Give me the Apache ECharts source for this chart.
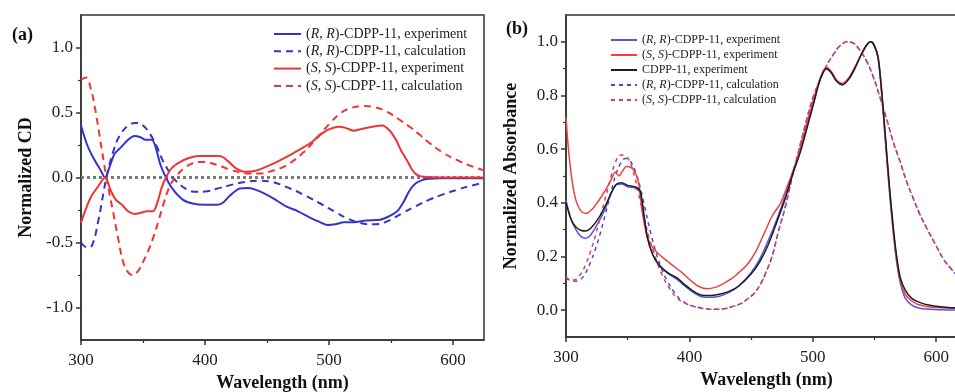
<!DOCTYPE html>
<html><head><meta charset="utf-8">
<script src="https://cdn.jsdelivr.net/npm/echarts@6/dist/echarts.min.js"></script>
<style>html,body{margin:0;padding:0;background:#fff}#c{width:955px;height:392px}</style>
</head><body><div id="c"></div>
<script>
// ---------- Panel (a): CD spectra ----------
const wlA_rrExp = [300,305,310,315,319.5,323,327,332,338,343,348,352,357,360,364,368.5,374,382,390,400,410,415,420,428,435,445,455,465,475,485,492,499,505,512,520,530,541,548,555,560,565,570,575,580,590,625];
const cdA_rrExp = [0.40,0.25,0.15,0.07,0.0,0.08,0.18,0.23,0.29,0.32,0.31,0.29,0.29,0.24,0.10,0.0,-0.09,-0.17,-0.20,-0.21,-0.21,-0.19,-0.14,-0.085,-0.08,-0.11,-0.16,-0.22,-0.26,-0.31,-0.34,-0.365,-0.36,-0.345,-0.345,-0.33,-0.325,-0.30,-0.26,-0.19,-0.10,-0.045,-0.02,-0.01,-0.005,-0.005];

const wlA_rrCalc = [300,305,309,314,320.5,326,331,338,344,350,356,361,366,372,377,385,393,402,412,422,432,442,452,465,479,493,506,516,525,535,545,560,570,581,592,603,614,625];
const cdA_rrCalc = [-0.50,-0.54,-0.52,-0.33,0.0,0.20,0.32,0.40,0.42,0.40,0.33,0.24,0.13,0.03,-0.03,-0.09,-0.11,-0.105,-0.08,-0.055,-0.035,-0.025,-0.03,-0.07,-0.13,-0.20,-0.27,-0.32,-0.35,-0.36,-0.345,-0.27,-0.22,-0.17,-0.13,-0.095,-0.065,-0.04];

const wlA_ssExp = [300,304,308,313,319.5,324,328,333,338,343,349,353,358,362,365,368.5,373,380,387,395,405,412,418,425,432,440,450,460,470,480,486,493,500,508,514,520,527,535,543,549,554,558,563,567,571,576,590,625];
const cdA_ssExp = [-0.35,-0.24,-0.15,-0.08,0.0,-0.10,-0.17,-0.21,-0.26,-0.28,-0.27,-0.26,-0.26,-0.18,-0.08,0.0,0.07,0.12,0.15,0.165,0.165,0.165,0.13,0.07,0.045,0.05,0.085,0.13,0.18,0.235,0.27,0.33,0.37,0.39,0.38,0.36,0.375,0.39,0.40,0.36,0.29,0.21,0.13,0.06,0.02,0.005,0.0,0.0];

const wlA_ssCalc = [300,304,308,311,315,320.5,326,330,334,338,342,346,350,354,358,362,366,371,376,383,390,397,405,413,420,428,436,444,452,465,479,490,501,510,518,528,537,546,556,565,573,581,592,603,614,625];
const cdA_ssCalc = [0.75,0.77,0.68,0.55,0.32,0.0,-0.27,-0.47,-0.65,-0.73,-0.75,-0.72,-0.65,-0.57,-0.47,-0.35,-0.22,-0.08,0.0,0.07,0.11,0.12,0.11,0.085,0.06,0.04,0.03,0.03,0.045,0.09,0.19,0.30,0.42,0.50,0.535,0.55,0.54,0.51,0.45,0.39,0.33,0.265,0.19,0.135,0.09,0.055];

// ---------- Panel (b): absorbance spectra ----------
const wlB_exp = [300,304,308,312,316,320,326,332,337,341,345,350,356,360,363,366,370,375,383,390,395,402,410,418,425,433,440,450,457,464,471,478,484,490,496,501,506,511,515,519,524,529,534,539,544,547,550,553,556,559,562,565,568,571,575,580,586,595,610,625];
const absB_rrExp = [0.41,0.34,0.30,0.275,0.268,0.28,0.325,0.38,0.44,0.468,0.47,0.46,0.455,0.44,0.36,0.27,0.21,0.17,0.135,0.115,0.095,0.07,0.05,0.048,0.053,0.068,0.09,0.14,0.19,0.26,0.34,0.43,0.52,0.60,0.70,0.78,0.86,0.90,0.885,0.855,0.84,0.86,0.90,0.95,0.99,1.0,0.985,0.94,0.80,0.62,0.45,0.30,0.18,0.10,0.045,0.02,0.008,0.003,0.001,0.001];
const absB_cdpExp = [0.40,0.34,0.31,0.298,0.295,0.305,0.34,0.39,0.44,0.47,0.475,0.465,0.46,0.445,0.36,0.27,0.21,0.17,0.138,0.12,0.10,0.075,0.056,0.055,0.06,0.072,0.09,0.135,0.18,0.245,0.33,0.42,0.51,0.59,0.69,0.775,0.86,0.90,0.885,0.855,0.84,0.86,0.90,0.95,0.99,1.0,0.985,0.94,0.81,0.64,0.47,0.32,0.2,0.12,0.075,0.045,0.03,0.018,0.01,0.008];
const wlB_ssExp = [300,302,305,308,312,316,321,326,331,336,340,343,346,349,353,356,359,362,366,370,375,380,387,394,400,407,414,421,428,435,440,447,454,461,467,474,480,486,490,496,501,506,511,515,519,524,529,534,539,544,547,550,553,556,559,562,565,568,571,575,580,586,595,610,625];
const absB_ssExp = [0.72,0.60,0.48,0.41,0.37,0.36,0.375,0.405,0.44,0.48,0.515,0.50,0.52,0.535,0.53,0.515,0.47,0.36,0.27,0.235,0.21,0.19,0.165,0.14,0.115,0.09,0.08,0.085,0.10,0.12,0.14,0.17,0.22,0.29,0.35,0.40,0.47,0.54,0.61,0.71,0.79,0.865,0.905,0.89,0.86,0.845,0.865,0.905,0.95,0.99,1.0,0.985,0.94,0.80,0.63,0.46,0.31,0.19,0.11,0.06,0.035,0.02,0.012,0.008,0.006];

const wlB_ssCalc = [300,304,308,312,316,320,324,328,332,336,340,344,348,352,356,360,364,368,373,378,384,390,397,405,413,420,428,436,442,448,453,458,462,467,472,478,484,490,495,500,506,511,517,522,528,533,538,544,549,554,560,565,571,576,582,587,593,600,606,612,618,625];
const absB_ssCalc = [0.125,0.112,0.115,0.135,0.17,0.22,0.28,0.35,0.42,0.49,0.55,0.578,0.575,0.55,0.49,0.41,0.33,0.26,0.19,0.13,0.08,0.045,0.025,0.012,0.005,0.003,0.005,0.015,0.025,0.045,0.065,0.10,0.14,0.20,0.29,0.39,0.51,0.62,0.71,0.79,0.86,0.91,0.955,0.985,1.0,0.995,0.97,0.925,0.87,0.80,0.71,0.63,0.55,0.48,0.41,0.355,0.30,0.24,0.19,0.155,0.125,0.095];
const wlB_rrCalc = [300,304,308,312,316,320,324,328,332,336,340,344,348,352,356,360,364,368,372,377,382,388,394,401,410,420,428,436,442,448,453,458,462,467,472,478,484,490,495,500,506,511,517,522,528,533,538,544,549,554,560,565,571,576,582,587,593,600,606,612,618,625];
const absB_rrCalc = [0.12,0.11,0.108,0.115,0.14,0.18,0.23,0.29,0.36,0.43,0.50,0.545,0.565,0.555,0.52,0.46,0.38,0.30,0.23,0.16,0.11,0.065,0.035,0.018,0.008,0.003,0.005,0.015,0.025,0.045,0.065,0.10,0.14,0.20,0.29,0.39,0.51,0.62,0.71,0.79,0.86,0.91,0.955,0.985,1.0,0.995,0.97,0.925,0.87,0.80,0.71,0.63,0.55,0.48,0.41,0.355,0.30,0.24,0.19,0.155,0.125,0.095];

// ---------- ticks & labels ----------
const X_MAJOR = [300,400,500,600];
const X_MINOR = [350,450,550];
const YA_MAJOR = [-1,-0.5,0,0.5,1];
const YA_MINOR = [-0.75,-0.25,0.25,0.75];
const YB_MAJOR = [0,0.2,0.4,0.6,0.8,1.0];
const YB_MINOR = [0.1,0.3,0.5,0.7,0.9];
const X_NAME = 'Wavelength (nm)';
const YA_NAME = 'Normalized CD';
const YB_NAME = 'Normalized Absorbance';
const PANEL_A = '(a)';
const PANEL_B = '(b)';

const LEGEND_A = ['a-rr-exp','a-rr-calc','a-ss-exp','a-ss-calc'];
const LEGEND_B = ['b-rr-exp','b-ss-exp','b-cdp-exp','b-rr-calc','b-ss-calc'];
const LABELS = {
  'a-rr-exp':['R','R','experiment'], 'a-rr-calc':['R','R','calculation'],
  'a-ss-exp':['S','S','experiment'], 'a-ss-calc':['S','S','calculation'],
  'b-rr-exp':['R','R','experiment'], 'b-ss-exp':['S','S','experiment'],
  'b-cdp-exp':'CDPP-11, experiment',
  'b-rr-calc':['R','R','calculation'], 'b-ss-calc':['S','S','calculation']
};

const FONT = '"Liberation Serif","Times New Roman",serif';
const AX = '#333';
const BLUE = '#3434c8', RED = '#ee3535', BLUEB = '#5656dc', REDB = '#ee4040', BLACK = '#1e1e1e', REDD = '#e03c58', BLUED = '#4848d4';
const pair = (xs, ys) => xs.map((x, i) => [x, ys[i]]);

function fmtLegend(name) {
  const m = LABELS[name];
  if (typeof m === 'string') return '{n|' + m + '}';
  return '{n|(}{i|' + m[0] + '}{n|, }{i|' + m[1] + '}{n|)-CDPP-11, ' + m[2] + '}';
}

function xMain(g) {
  return { type:'value', gridIndex:g, min:300, max:625, position:'bottom',
    name:X_NAME, nameLocation:'middle', nameGap:34,
    nameTextStyle:{fontFamily:FONT, fontWeight:'bold', fontSize:18, color:'#111'},
    axisLine:{onZero:false, lineStyle:{color:AX, width:1.5}},
    axisTick:{inside:false, length:5, customValues:X_MAJOR, lineStyle:{color:AX, width:1.5}},
    axisLabel:{customValues:X_MAJOR, fontFamily:FONT, fontSize:17, color:'#222', margin:12},
    splitLine:{show:false} };
}
function xMinor(g) {
  return { type:'value', gridIndex:g, min:300, max:625, position:'bottom',
    axisLine:{show:false, onZero:false}, axisLabel:{show:false}, splitLine:{show:false},
    axisTick:{inside:false, length:3, customValues:X_MINOR, lineStyle:{color:AX, width:1.2}} };
}
function yMain(g, min, max, major, name) {
  return { type:'value', gridIndex:g, min:min, max:max, position:'left',
    name:name, nameLocation:'middle', nameGap:46,
    nameTextStyle:{fontFamily:FONT, fontWeight:'bold', fontSize:18, color:'#111'},
    axisLine:{show:true, onZero:false, lineStyle:{color:AX, width:1.5}},
    axisTick:{show:true, inside:false, length:5, customValues:major, lineStyle:{color:AX, width:1.5}},
    axisLabel:{customValues:major, formatter:v => Number(v).toFixed(1), fontFamily:FONT, fontSize:17, color:'#222', margin:8},
    splitLine:{show:false} };
}
function yMinor(g, min, max, minor) {
  return { type:'value', gridIndex:g, min:min, max:max, position:'left',
    axisLine:{show:false, onZero:false}, axisLabel:{show:false}, splitLine:{show:false},
    axisTick:{show:true, inside:false, length:3, customValues:minor, lineStyle:{color:AX, width:1.2}} };
}
function line(name, xi, yi, data, color, width, dashed, smooth, z) {
  return { type:'line', name:name, xAxisIndex:xi, yAxisIndex:yi, data:data, showSymbol:false, symbol:'none',
    smooth:smooth, z:z||2, lineStyle:{color:color, width:width, type:dashed || 'solid'}, itemStyle:{color:color} };
}

const rich = (fs) => ({ n:{fontFamily:FONT, fontSize:fs, color:'#222', lineHeight:fs}, i:{fontFamily:FONT, fontSize:fs, fontStyle:'italic', color:'#222', lineHeight:fs} });

const chart = echarts.init(document.getElementById('c'), null, {renderer:'canvas'});
chart.setOption({
  animation:false,
  backgroundColor:'#fff',
  grid:[
    {left:81, top:15, width:403, height:325, containLabel:false, outerBoundsMode:'none', show:true, borderColor:AX, borderWidth:1.5, backgroundColor:'transparent'},
    {left:566, top:15, width:401, height:322, containLabel:false, outerBoundsMode:'none', show:true, borderColor:AX, borderWidth:1.5, backgroundColor:'transparent'}
  ],
  xAxis:[xMain(0), xMinor(0), xMain(1), xMinor(1)],
  yAxis:[yMain(0,-1.25,1.25,YA_MAJOR,YA_NAME), yMinor(0,-1.25,1.25,YA_MINOR), yMain(1,-0.1,1.1,YB_MAJOR,YB_NAME), yMinor(1,-0.1,1.1,YB_MINOR)],
  legend:[
    {data:LEGEND_A, orient:'vertical', left:273, top:27, itemWidth:27, itemHeight:14, itemGap:3.3, padding:0,
     itemStyle:{opacity:0, borderWidth:0},
     formatter:fmtLegend, textStyle:{fontFamily:FONT, fontSize:14, color:'#222', rich:rich(14)}},
    {data:LEGEND_B, orient:'vertical', left:610, top:34, itemWidth:26, itemHeight:12, itemGap:3, padding:0,
     itemStyle:{opacity:0, borderWidth:0},
     formatter:fmtLegend, textStyle:{fontFamily:FONT, fontSize:12, color:'#222', rich:rich(12)}}
  ],
  graphic:[
    {type:'text', left:12, top:26, style:{text:PANEL_A, font:'bold 18px ' + FONT, fill:'#111'}},
    {type:'text', left:506, top:20, style:{text:PANEL_B, font:'bold 18px ' + FONT, fill:'#111'}}
  ],
  series:[
    Object.assign(line('a-rr-exp',0,0,pair(wlA_rrExp,cdA_rrExp),BLUE,2,'solid',0.3,3), {
      markLine:{silent:true, symbol:'none', label:{show:false}, data:[{yAxis:0}],
        lineStyle:{color:'#7a7a7a', width:3, type:[3,3]}, z:1}
    }),
    line('a-rr-calc',0,0,pair(wlA_rrCalc,cdA_rrCalc),BLUE,2,[7,5],0.4,3),
    line('a-ss-exp',0,0,pair(wlA_ssExp,cdA_ssExp),RED,2,'solid',0.3,3),
    line('a-ss-calc',0,0,pair(wlA_ssCalc,cdA_ssCalc),RED,2,[7,5],0.4,3),
    line('b-rr-exp',2,2,pair(wlB_exp,absB_rrExp),BLUEB,1.5,'solid',0.3,3),
    line('b-rr-calc',2,2,pair(wlB_rrCalc,absB_rrCalc),BLUED,1.5,[4,4],0.4,3),
    line('b-ss-calc',2,2,pair(wlB_ssCalc,absB_ssCalc),REDD,1.5,[4,4],0.4,4),
    line('b-ss-exp',2,2,pair(wlB_ssExp,absB_ssExp),REDB,1.5,'solid',0.3,4),
    line('b-cdp-exp',2,2,pair(wlB_exp,absB_cdpExp),BLACK,1.5,'solid',0.3,5)
  ]
});
</script>
</body></html>
